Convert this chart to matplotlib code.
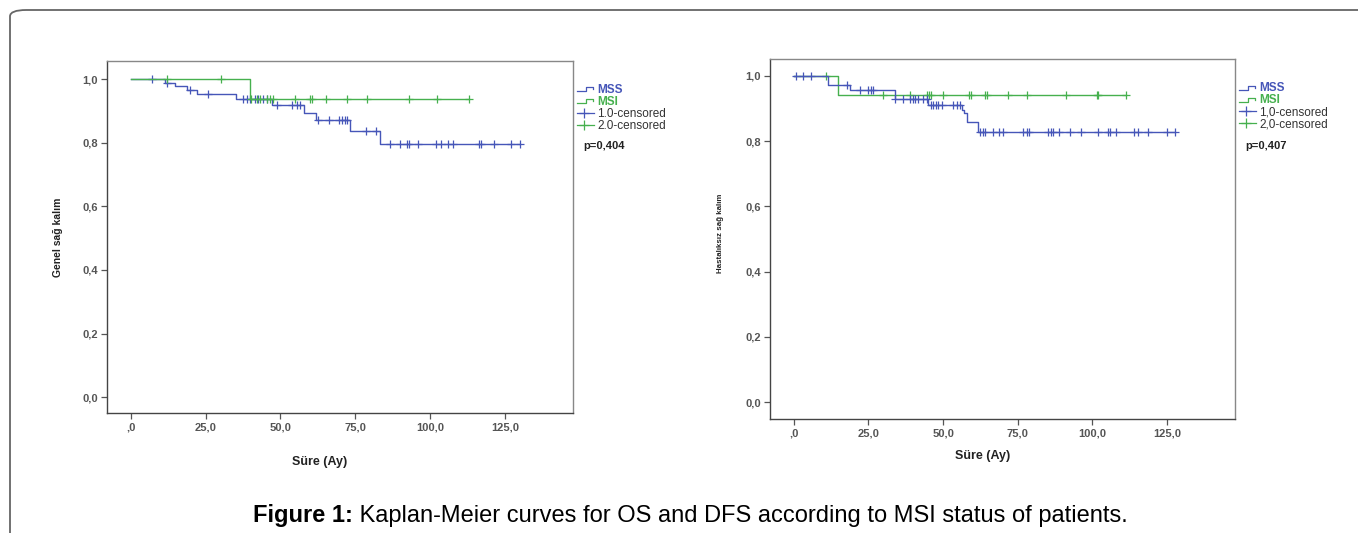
#Libraries
import numpy as np
import matplotlib
matplotlib.use("Agg")
import matplotlib.pyplot as plt
from matplotlib.lines import Line2D
from matplotlib.legend_handler import HandlerBase
from matplotlib.patches import FancyBboxPatch
from matplotlib.ticker import FuncFormatter

plt.rcParams['font.family'] = ['Liberation Sans', 'DejaVu Sans']

#Data
#Overall survival (left)
os_mss_t = [0, 11.4, 14.7, 18.8, 22.0, 35.1, 47.3, 57.8, 61.8, 73.2, 83.2, 130.2]
os_mss_s = [1.0, 0.988, 0.978, 0.967, 0.952, 0.937, 0.920, 0.894, 0.871, 0.836, 0.795, 0.795]
os_mss_cens = [6.9, 11.9, 19.7, 25.8, 37.5, 38.7, 39.8, 41.4, 42.6, 44.2, 45.4, 48.7, 54.0,
               55.6, 56.5, 62.6, 66.3, 69.6, 70.6, 71.5, 72.1, 78.5, 81.9, 86.6, 89.9, 92.4,
               93.0, 96.0, 102.1, 103.8, 106.1, 107.7, 116.4, 117.2, 121.3, 127.2, 130.2]
os_msi_t = [0, 39.8, 113.1]
os_msi_s = [1.0, 0.937, 0.937]
os_msi_cens = [11.9, 30.0, 40.3, 42.0, 43.1, 45.4, 46.5, 47.6, 55.0, 59.8, 60.7, 65.1,
               72.1, 78.8, 93.0, 102.2, 113.1]

#Disease free survival (right)
dfs_mss_t = [0, 11.6, 18.8, 33.8, 45.0, 56.2, 57.0, 57.9, 61.8, 127.7]
dfs_mss_s = [1.0, 0.972, 0.957, 0.929, 0.911, 0.897, 0.885, 0.860, 0.829, 0.829]
dfs_mss_cens = [0.7, 2.9, 5.6, 17.9, 22.1, 24.9, 25.7, 26.6, 33.8, 36.6, 38.9, 39.8, 40.5,
                41.7, 43.3, 44.5, 46.1, 46.7, 47.6, 48.4, 49.5, 53.4, 54.5, 55.6, 62.3, 63.2,
                64.0, 66.8, 68.8, 69.9, 76.9, 78.0, 78.9, 85.2, 86.0, 86.9, 88.8, 92.5, 96.1,
                102.0, 105.1, 105.9, 107.9, 114.1, 115.4, 118.7, 124.9, 127.7]
dfs_msi_t = [0, 14.9, 111.3]
dfs_msi_s = [1.0, 0.942, 0.942]
dfs_msi_cens = [10.9, 29.9, 38.9, 44.5, 45.2, 45.8, 49.8, 58.8, 59.5, 64.0, 64.8, 71.8,
                78.0, 91.2, 101.4, 101.8, 111.3]

x_ticks = [0, 25, 50, 75, 100, 125]
y_ticks = [0.0, 0.2, 0.4, 0.6, 0.8, 1.0]

BLUE = '#4656b8'
GREEN = '#46b04e'
GRAY = '#555555'


def step_value(t, s, x):
    #survival value of a step curve at time x
    idx = np.searchsorted(np.asarray(t), x, side='right') - 1
    return np.asarray(s)[np.clip(idx, 0, len(s) - 1)]


class StepHandler(HandlerBase):
    def create_artists(self, legend, orig_handle, xd, yd, w, h, fontsize, trans):
        xs = np.array([0, 0.5, 0.5, 0.9, 0.9]) * w - xd
        ys = np.array([0.2, 0.2, 0.7, 0.7, 0.45]) * h - yd
        ln = Line2D(xs, ys, color=orig_handle.get_color(), lw=0.9, transform=trans)
        return [ln]


class CensHandler(HandlerBase):
    def create_artists(self, legend, orig_handle, xd, yd, w, h, fontsize, trans):
        ln = Line2D([-xd, w - xd], [h / 2 - yd, h / 2 - yd], color=orig_handle.get_color(),
                    lw=0.9, transform=trans)
        mk = Line2D([w * 0.4 - xd], [h / 2 - yd], color=orig_handle.get_color(), marker='+',
                    ms=7, mew=0.9, transform=trans)
        return [ln, mk]


def km_panel(ax, mss, msi, green_top, ylabel, ylab_pos, xlab_pos, cens_names, pval, ylim):
    curves = [(mss, BLUE), (msi, GREEN)]
    if not green_top:
        curves = curves[::-1]
    for (t, s, c), col in curves:
        ax.step(t, s, where='post', color=col, lw=1.0)
        ax.plot(c, step_value(t, s, c), '+', color=col, ms=6, mew=0.9, ls='none')
    ax.set_xlim(-8, 147.8)
    ax.set_ylim(*ylim)
    ax.set_xticks(x_ticks)
    ax.set_yticks(y_ticks)
    ax.xaxis.set_major_formatter(FuncFormatter(lambda v, p: (',0' if v == 0 else ('%.1f' % v).replace('.', ','))))
    ax.yaxis.set_major_formatter(FuncFormatter(lambda v, p: ('%.1f' % v).replace('.', ',')))
    ax.tick_params(axis='both', colors=GRAY, labelsize=8, length=4.5, width=0.9, pad=2)
    for lab in ax.get_xticklabels() + ax.get_yticklabels():
        lab.set_fontweight('bold')
    for sp in ['left', 'bottom']:
        ax.spines[sp].set_color('#444444')
        ax.spines[sp].set_linewidth(1.0)
    for sp in ['top', 'right']:
        ax.spines[sp].set_color('#888888')
        ax.spines[sp].set_linewidth(1.0)
    ax.set_ylabel(ylabel, fontsize=ylab_pos[2], fontweight='bold', color='#222222')
    ax.yaxis.set_label_coords(ylab_pos[0], ylab_pos[1])
    ax.set_xlabel('Süre (Ay)', fontsize=9, fontweight='bold', color='#222222')
    ax.xaxis.set_label_coords(xlab_pos[0], xlab_pos[1])
    ax.xaxis.label.set_va('center')

    hs = [Line2D([], [], color=BLUE), Line2D([], [], color=GREEN),
          Line2D([], [], color=BLUE), Line2D([], [], color=GREEN)]
    hmap = {hs[0]: StepHandler(), hs[1]: StepHandler(), hs[2]: CensHandler(), hs[3]: CensHandler()}
    leg = ax.legend(hs, ['MSS', 'MSI'] + cens_names, handler_map=hmap, loc='upper left',
                    bbox_to_anchor=(1.008, 0.935), frameon=False, fontsize=8.5, handlelength=1.5,
                    handletextpad=0.25, labelspacing=0.0, borderpad=0, borderaxespad=0,
                    labelcolor=[BLUE, GREEN, '#333333', '#333333'])
    for txt in leg.get_texts()[:2]:
        txt.set_fontweight('bold')
    ax.text(1.022, 0.758, pval, transform=ax.transAxes, fontsize=8, fontweight='bold',
            color='#222222', va='center', ha='left')


fig = plt.figure(figsize=(13.58, 5.33), dpi=100)

#Rounded frame around the figure (right and bottom edges run off the picture)
fig.patches.append(FancyBboxPatch((10 / 1358, -0.05), 1.02, 1 - 10 / 533 + 0.05,
                                  transform=fig.transFigure,
                                  boxstyle='round,pad=0,rounding_size=0.012', fc='none',
                                  ec='#666666', lw=1.3))

ax1 = fig.add_axes([107 / 1358, 120 / 533, 466 / 1358, 352 / 533])
km_panel(ax1, (os_mss_t, os_mss_s, os_mss_cens), (os_msi_t, os_msi_s, os_msi_cens), True,
         'Genel sağ kalım', (-0.094, 0.5, 7.5), (0.457, -0.139),
         ['1.0-censored', '2.0-censored'], 'p=0,404', (-0.050, 1.057))

ax2 = fig.add_axes([770 / 1358, 114 / 533, 465 / 1358, 360 / 533])
km_panel(ax2, (dfs_mss_t, dfs_mss_s, dfs_mss_cens), (dfs_msi_t, dfs_msi_s, dfs_msi_cens), False,
         'Hastalıksız sağ kalım', (-0.099, 0.515, 5.7), (0.458, -0.103),
         ['1,0-censored', '2,0-censored'], 'p=0,407', (-0.052, 1.052))

#Caption: bold "Figure 1:" followed by normal text
cap_bold = 'Figure 1:'
cap_rest = ' Kaplan-Meier curves for OS and DFS according to MSI status of patients.'
fig.canvas.draw()
r = fig.canvas.get_renderer()
tb = fig.text(0, 0, cap_bold, fontsize=17, fontweight='bold', color='black')
tr = fig.text(0, 0, cap_rest, fontsize=17, color='black')
wb = tb.get_window_extent(r).width
wr = tr.get_window_extent(r).width
x0 = (690 - (wb + wr) / 2) / 1358
yb = 1 - 522 / 533
tb.set_position((x0, yb))
tb.set_va('baseline')
tr.set_position((x0 + wb / 1358, yb))
tr.set_va('baseline')

plt.savefig('out.png', dpi=100)
